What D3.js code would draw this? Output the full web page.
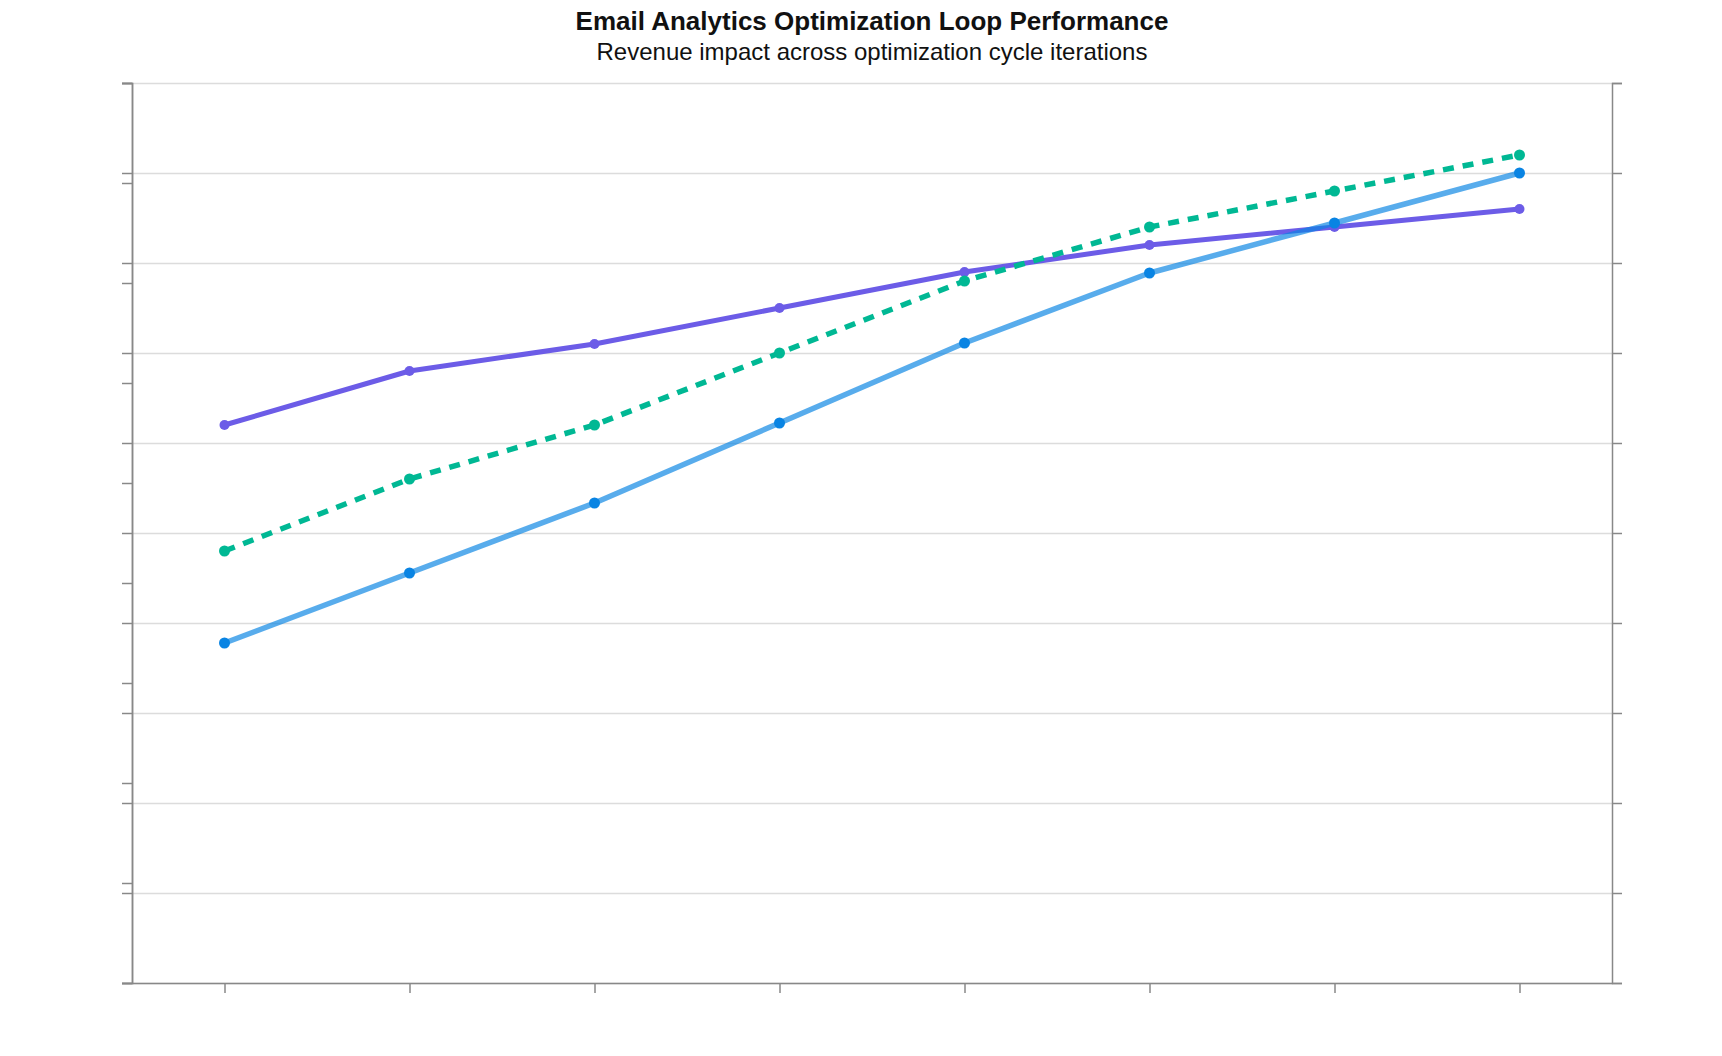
<!DOCTYPE html>
<html>
<head>
<meta charset="utf-8">
<script src="https://cdn.jsdelivr.net/npm/d3@7"></script>
<style>
    body { margin: 0; background: #fff; }
    svg { display: block; font-family: "Liberation Sans", Arial, sans-serif; }
</style>
</head>
<body>
<svg id="chart"></svg>
<script>
// optimization cycles along the x axis
const iterations = ['Cycle 1', 'Cycle 2', 'Cycle 3', 'Cycle 4', 'Cycle 5', 'Cycle 6', 'Cycle 7', 'Cycle 8'];
// engagement scores (left/right primary axis, 0-100)
const openRate = [62, 68, 71, 75, 79, 82, 84, 86];
const clickRate = [48, 56, 62, 70, 78, 84, 88, 92];
// revenue (secondary axis, 0-90)
const revenue = [34, 41, 48, 56, 64, 71, 76, 81];
const primaryDomain = [0, 100];
const revenueDomain = [0, 90];

const width = 1722;
const height = 1056;
const margin = { top: 83, right: 110, bottom: 73, left: 132 };
const innerW = width - margin.left - margin.right;
const innerH = height - margin.top - margin.bottom;

const svg = d3.select('#chart').attr('width', width).attr('height', height);

svg.append('text')
    .attr('x', margin.left + innerW / 2)
    .attr('y', 30)
    .attr('text-anchor', 'middle')
    .attr('font-size', 26)
    .attr('font-weight', 'bold')
    .attr('fill', '#111')
    .text('Email Analytics Optimization Loop Performance');

svg.append('text')
    .attr('x', margin.left + innerW / 2)
    .attr('y', 60)
    .attr('text-anchor', 'middle')
    .attr('font-size', 24)
    .attr('fill', '#111')
    .text('Revenue impact across optimization cycle iterations');

const g = svg.append('g').attr('transform', `translate(${margin.left},${margin.top})`);

const x = d3.scalePoint().domain(iterations).range([0, innerW]).padding(0.5);
const y = d3.scaleLinear().domain(primaryDomain).range([innerH, 0]);
const yRev = d3.scaleLinear().domain(revenueDomain).range([innerH, 0]);

// gridlines
g.append('g')
    .attr('class', 'grid')
    .call(d3.axisLeft(y).ticks(10).tickSize(-innerW).tickFormat(''))
    .call(s => s.select('.domain').remove())
    .call(s => s.selectAll('line').attr('stroke', '#dcdcdc').attr('stroke-width', 1.5));

const styleAxis = s => {
    s.selectAll('path, line').attr('stroke', '#888').attr('stroke-width', 1.5);
    s.selectAll('text').remove();
};

g.append('g')
    .call(d3.axisLeft(yRev).ticks(9).tickSize(10).tickFormat(''))
    .call(styleAxis);

g.append('g')
    .call(d3.axisLeft(y).ticks(10).tickSize(10).tickFormat(''))
    .call(styleAxis);

g.append('g')
    .attr('transform', `translate(${innerW},0)`)
    .call(d3.axisRight(y).ticks(10).tickSize(10).tickFormat(''))
    .call(styleAxis);

g.append('g')
    .attr('transform', `translate(0,${innerH})`)
    .call(d3.axisBottom(x).tickSize(10).tickSizeOuter(0).tickFormat(''))
    .call(styleAxis);

const series = [
    { name: 'Open rate', values: openRate, scale: y, line: '#6c5ce7', dot: '#6c5ce7', width: 5, dash: null, r: 5, opacity: 1 },
    { name: 'Click rate', values: clickRate, scale: y, line: '#00b894', dot: '#00b894', width: 5.5, dash: '11,9', r: 5.5, opacity: 1 },
    { name: 'Revenue', values: revenue, scale: yRev, line: '#0984e3', dot: '#0984e3', width: 5.5, dash: null, r: 5.5, opacity: 0.68 }
];

series.forEach(s => {
    const line = d3.line()
        .x((d, i) => x(iterations[i]))
        .y(d => s.scale(d));

    g.append('path')
        .datum(s.values)
        .attr('fill', 'none')
        .attr('stroke', s.line)
        .attr('stroke-opacity', s.opacity)
        .attr('stroke-width', s.width)
        .attr('stroke-dasharray', s.dash)
        .attr('stroke-linejoin', 'round')
        .attr('d', line);

    g.append('g')
        .selectAll('circle')
        .data(s.values)
        .join('circle')
        .attr('cx', (d, i) => x(iterations[i]))
        .attr('cy', d => s.scale(d))
        .attr('r', s.r)
        .attr('fill', s.dot)
        .append('title')
        .text((d, i) => `${s.name} - ${iterations[i]}: ${d}`);
});
</script>
</body>
</html>
